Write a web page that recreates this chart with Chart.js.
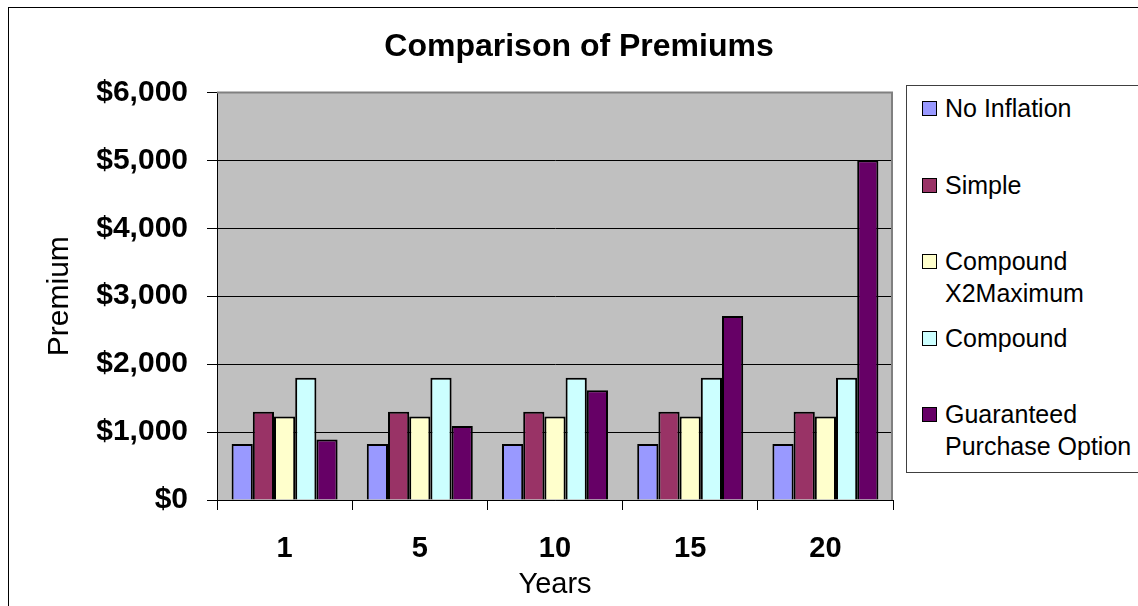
<!DOCTYPE html>
<html>
<head>
<meta charset="utf-8">
<script src="https://cdn.jsdelivr.net/npm/chart.js@4/dist/chart.umd.min.js"></script>
<style>
  html, body { margin: 0; padding: 0; background: #fff; overflow: hidden; }
  #wrap { position: relative; width: 1138px; height: 606px; }
  #legend {
    position: absolute; left: 906px; top: 85px; width: 300px; height: 388px;
    border: 1px solid #404040; background: #fff; box-sizing: border-box;
    font-family: "Liberation Sans", Arial, sans-serif; font-size: 25px; color: #000;
  }
  .item { position: absolute; left: 15px; line-height: 32px; }
  .box { position: absolute; left: 0; top: 9px; width: 15px; height: 15px; border: 1px solid #000; box-sizing: border-box; }
  .txt { margin-left: 23px; white-space: nowrap; }
</style>
</head>
<body>
<div id="wrap">
  <canvas id="chart" width="1138" height="606"></canvas>
  <div id="legend"></div>
</div>
<script>
const years = ['1', '5', '10', '15', '20'];
const seriesNames = [['No Inflation'], ['Simple'], ['Compound', 'X2Maximum'], ['Compound'], ['Guaranteed', 'Purchase Option']];
const noInflation = [825, 825, 825, 825, 825];
const simple = [1300, 1300, 1300, 1300, 1300];
const compoundX2 = [1230, 1230, 1230, 1230, 1230];
const compound = [1800, 1800, 1800, 1800, 1800];
const guaranteed = [890, 1090, 1615, 2710, 5000];
const colors = ['#9999FF', '#993366', '#FFFFCC', '#CCFFFF', '#660066'];

const font = '"Liberation Sans", Arial, sans-serif';

// plot background, outer frame and plot border
const plotArea = {
    id: 'plotArea',
    beforeDraw(chart) {
        const {ctx, chartArea: a} = chart;
        ctx.save();
        ctx.fillStyle = '#C0C0C0';
        ctx.fillRect(a.left, a.top, a.right - a.left, a.bottom - a.top);
        ctx.strokeStyle = '#000';
        ctx.lineWidth = 1;
        ctx.strokeRect(8.5, 7.5, 1400, 800);
        ctx.restore();
    },
    afterDraw(chart) {
        const {ctx, chartArea: a} = chart;
        ctx.save();
        ctx.strokeStyle = '#808080';
        ctx.lineWidth = 2;
        ctx.beginPath();
        ctx.moveTo(a.left, a.top);
        ctx.lineTo(a.right - 1, a.top);
        ctx.lineTo(a.right - 1, a.bottom);
        ctx.stroke();
        ctx.restore();
    }
};

const data = [noInflation, simple, compoundX2, compound, guaranteed];
const ctx = document.getElementById('chart').getContext('2d');
const myChart = new Chart(ctx, {
    type: 'bar',
    data: {
        labels: years,
        datasets: data.map((d, i) => ({
            label: seriesNames[i].join(' '),
            data: d,
            backgroundColor: colors[i],
            borderColor: '#000',
            borderWidth: 2,
            categoryPercentage: 0.784,
            barPercentage: 1
        }))
    },
    options: {
        responsive: false,
        animation: false,
        layout: { padding: { left: 20, top: 0, right: 0, bottom: 0 } },
        plugins: {
            legend: { display: false },
            tooltip: { enabled: false },
            title: {
                display: true,
                text: 'Comparison of Premiums',
                color: '#000',
                font: { family: font, size: 32, weight: 'bold' },
                padding: { top: 28, bottom: 26 }
            }
        },
        scales: {
            x: {
                afterFit: s => { s.height = 106; },
                grid: { display: true, drawOnChartArea: false, drawTicks: true, tickLength: 10, color: '#000', offset: true },
                border: { display: true, color: '#000', width: 1 },
                ticks: { color: '#000', padding: 22, font: { family: font, size: 29, weight: 'bold' } },
                title: { display: true, text: 'Years', color: '#000', font: { family: font, size: 29 }, padding: { top: 0, bottom: 4 } }
            },
            y: {
                min: 0,
                max: 6000,
                afterFit: s => { s.width = 197; },
                grid: { color: '#000', tickLength: 10, lineWidth: 1 },
                border: { display: true, color: '#000', width: 1 },
                ticks: {
                    stepSize: 1000,
                    color: '#000',
                    padding: 19,
                    font: { family: font, size: 30, weight: 'bold' },
                    callback: v => '$' + v.toLocaleString('en-US')
                },
                title: { display: true, text: 'Premium', color: '#000', font: { family: font, size: 30 }, padding: { top: 22, bottom: 0 } }
            },
            // empty right-hand axis, keeps room for the legend
            side: {
                type: 'linear',
                position: 'right',
                afterFit: s => { s.width = 245; },
                grid: { display: false },
                border: { display: false },
                ticks: { display: false }
            }
        }
    },
    plugins: [plotArea]
});

// legend, one fixed slot per series
const legend = document.getElementById('legend');
seriesNames.forEach((lines, i) => {
    const item = document.createElement('div');
    item.className = 'item';
    item.style.top = (6 + i * 76.5) + 'px';
    const box = document.createElement('div');
    box.className = 'box';
    box.style.background = colors[i];
    const txt = document.createElement('div');
    txt.className = 'txt';
    txt.innerHTML = lines.join('<br>');
    item.appendChild(box);
    item.appendChild(txt);
    legend.appendChild(item);
});
</script>
</body>
</html>
